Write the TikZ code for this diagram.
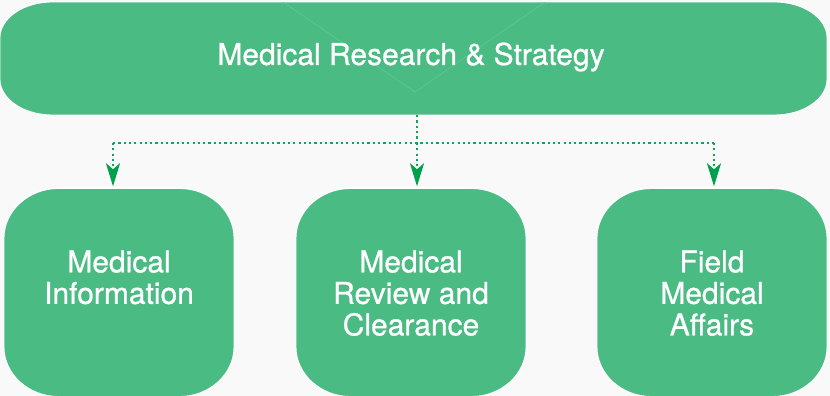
\documentclass[tikz,border=0pt]{standalone}
\usepackage{fontspec}
\setmainfont{TeX Gyre Heros}
\newfontfamily\medfont{TeX Gyre Heros}[RawFeature={embolden=0.8}]
\usetikzlibrary{arrows.meta,calc,backgrounds}
\definecolor{boxgreen}{HTML}{4ABB82}
\definecolor{arrowgreen}{HTML}{00A14E}
\definecolor{dotgreen}{HTML}{14A35A}
\definecolor{pagebg}{HTML}{F9F9F9}
\definecolor{vline}{HTML}{66C89A}
\newcommand\roundbox[3]{%
  \path[boxshape] let \p1=(#1.south west), \p2=(#1.north east) in
    (\x1+#2,\y1) -- (\x2-#2,\y1)
    arc[start angle=-90,end angle=0,x radius=#2,y radius=#3]
    -- (\x2,\y2-#3)
    arc[start angle=0,end angle=90,x radius=#2,y radius=#3]
    -- (\x1+#2,\y2)
    arc[start angle=90,end angle=180,x radius=#2,y radius=#3]
    -- (\x1,\y1+#3)
    arc[start angle=180,end angle=270,x radius=#2,y radius=#3]
    -- cycle;}
\tikzset{
  boxarea/.style={rectangle,inner sep=0pt,draw=none},
  boxshape/.style={fill=boxgreen,draw=white,line width=1.2pt},
  boxtext/.style={text=white,align=center,inner sep=0pt,
    font=\medfont\fontsize{30}{31.5}\selectfont},
  dotline/.style={draw=dotgreen,line width=2.2pt,dash pattern=on 2.2pt off 3.1pt},
  tip/.style={-{Stealth[length=23pt,width=14pt,inset=6pt,color=arrowgreen]}},
}
\begin{document}
\begin{tikzpicture}[x=1pt,y=1pt]
\useasboundingbox (0,0) rectangle (830,396);
\begin{scope}[on background layer]
  \fill[pagebg] (0,0) rectangle (830,396);
\end{scope}
% nodes (boxes)
\node[boxarea,minimum width=827pt,minimum height=113pt] (top) at (413.5,337.5) {};
\node[boxarea,minimum width=230pt,minimum height=208pt] (mi) at (119,103.5) {};
\node[boxarea,minimum width=230pt,minimum height=208pt] (mr) at (411,103.5) {};
\node[boxarea,minimum width=230pt,minimum height=208pt] (fm) at (712,103.5) {};
\begin{scope}[on background layer]
  \roundbox{top}{53pt}{36pt}
  \draw[vline,line width=0.5pt] (283,394) -- (415,304) -- (545,394);
  \roundbox{mi}{55pt}{50pt}
  \roundbox{mr}{55pt}{50pt}
  \roundbox{fm}{55pt}{50pt}
\end{scope}
% texts
\node[boxtext] (top-t) at (411,339) {Medical Research \& Strategy};
\node[boxtext,anchor=north] (mi-t) at ([yshift=-62pt]mi.north) {Medical\\Information};
\node[boxtext,anchor=north] (mr-t) at ([yshift=-62pt]mr.north) {Medical\\Review and\\Clearance};
\node[boxtext,anchor=north] (fm-t) at ([yshift=-62pt]fm.north) {Field\\Medical\\Affairs};
% connectors
\coordinate (j) at (417,253);
\coordinate (jl) at (113,253);
\coordinate (jr) at (714,253);
\draw[dotline] (top.south -| j) -- (j);
\draw[dotline] (jl) -- (jr);
\draw[dotline,tip,shorten >=2pt] (jl) -- (jl |- mi.north);
\draw[dotline,tip,shorten >=2pt] (j) -- (j |- mr.north);
\draw[dotline,tip,shorten >=2pt] (jr) -- (jr |- fm.north);
\end{tikzpicture}
\end{document}
